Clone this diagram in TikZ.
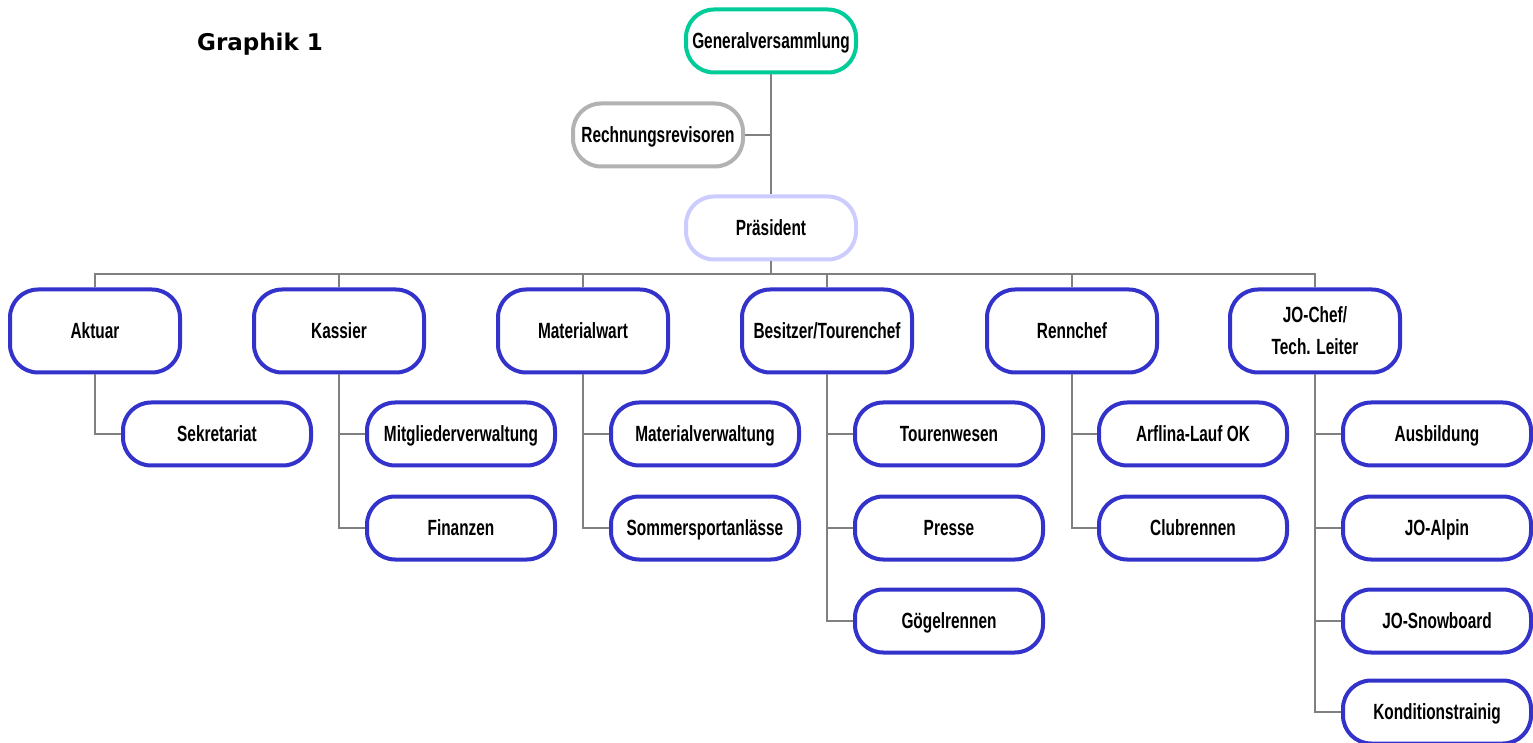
\documentclass[tikz,border=0pt]{standalone}
\usepackage{fontspec}
\setmainfont{Liberation Sans}[FakeStretch=0.7]
\newfontfamily\titlefont{DejaVu Sans}
\usepackage{tikz}
\usetikzlibrary{calc}
\definecolor{gvgreen}{RGB}{0,204,153}
\definecolor{revgray}{RGB}{178,178,178}
\definecolor{praelila}{RGB}{204,204,255}
\definecolor{boxblue}{RGB}{51,51,204}
\definecolor{linegray}{RGB}{128,128,128}

\begin{document}
\begin{tikzpicture}[x=0.5pt, y=-0.5pt, font=\fontsize{11}{13}\selectfont\bfseries,
		amt/.style={draw=boxblue, line width=2pt, rounded corners=14pt, fill=white, align=center, minimum width=85pt, minimum height=41.5pt, inner sep=1pt, text height=0.8em, text depth=0.05em},
		ressort/.style={draw=boxblue, line width=2pt, rounded corners=14pt, fill=white, minimum width=94pt, minimum height=31.5pt, inner sep=1pt, text height=0.8em, text depth=0.05em},
		top/.style={amt, minimum height=31.5pt},
		link/.style={draw=linegray, line width=1pt}]
		\useasboundingbox (0,0) rectangle (1533,743);
		\node[font=\titlefont\fontsize{11.5}{14}\selectfont\bfseries] (titel) at (260,44) {Graphik 1};
		% Vorstand
		\node[top, draw=gvgreen] (gv) at (771,41) {Generalversammlung};
		\node[top, draw=revgray] (rev) at (658,135) {Rechnungsrevisoren};
		\node[top, draw=praelila] (pra) at (771,228) {Präsident};
		\coordinate (bus) at (771,274); % Querlinie
		\draw[link] (gv) -- (pra);
		\draw[link] (rev.east) -- (rev.east -| gv);
		% Ressorts
		\node[amt] (akt) at (95,331) {Aktuar};
		\node[amt] (kas) at (339,331) {Kassier};
		\node[amt] (mat) at (583,331) {Materialwart};
		\node[amt] (tour) at (827,331) {Besitzer/Tourenchef};
		\node[amt] (renn) at (1072,331) {Rennchef};
		\node[amt, text height={}, text depth={}] (jo) at (1315,331) {JO-Chef/\\[3pt]Tech. Leiter};
		\foreach \r in {akt,kas,mat,tour,renn,jo}
			\draw[link] (pra.south) -- (bus) -| (\r.north);
		% Unterressorts
		\node[ressort] (sek) at (217,434) {Sekretariat};
		\node[ressort] (mit) at (461,434) {Mitgliederverwaltung};
		\node[ressort] (fin) at (461,528) {Finanzen};
		\node[ressort] (matv) at (705,434) {Materialverwaltung};
		\node[ressort] (som) at (705,528) {Sommersportanlässe};
		\node[ressort] (tw) at (949,434) {Tourenwesen};
		\node[ressort] (pre) at (949,528) {Presse};
		\node[ressort] (goe) at (949,621) {Gögelrennen};
		\node[ressort] (arf) at (1193,434) {Arflina-Lauf OK};
		\node[ressort] (club) at (1193,528) {Clubrennen};
		\node[ressort] (ausb) at (1437,434) {Ausbildung};
		\node[ressort] (alp) at (1437,528) {JO-Alpin};
		\node[ressort] (snow) at (1437,621) {JO-Snowboard};
		\node[ressort] (kond) at (1437,712) {Konditionstrainig};
		\draw[link] (akt.south) |- (sek.west);
		\draw[link] (kas.south) |- (mit.west);
		\draw[link] (kas.south) |- (fin.west);
		\draw[link] (mat.south) |- (matv.west);
		\draw[link] (mat.south) |- (som.west);
		\draw[link] (tour.south) |- (tw.west);
		\draw[link] (tour.south) |- (pre.west);
		\draw[link] (tour.south) |- (goe.west);
		\draw[link] (renn.south) |- (arf.west);
		\draw[link] (renn.south) |- (club.west);
		\draw[link] (jo.south) |- (ausb.west);
		\draw[link] (jo.south) |- (alp.west);
		\draw[link] (jo.south) |- (snow.west);
		\draw[link] (jo.south) |- (kond.west);
	\end{tikzpicture}
\end{document}
